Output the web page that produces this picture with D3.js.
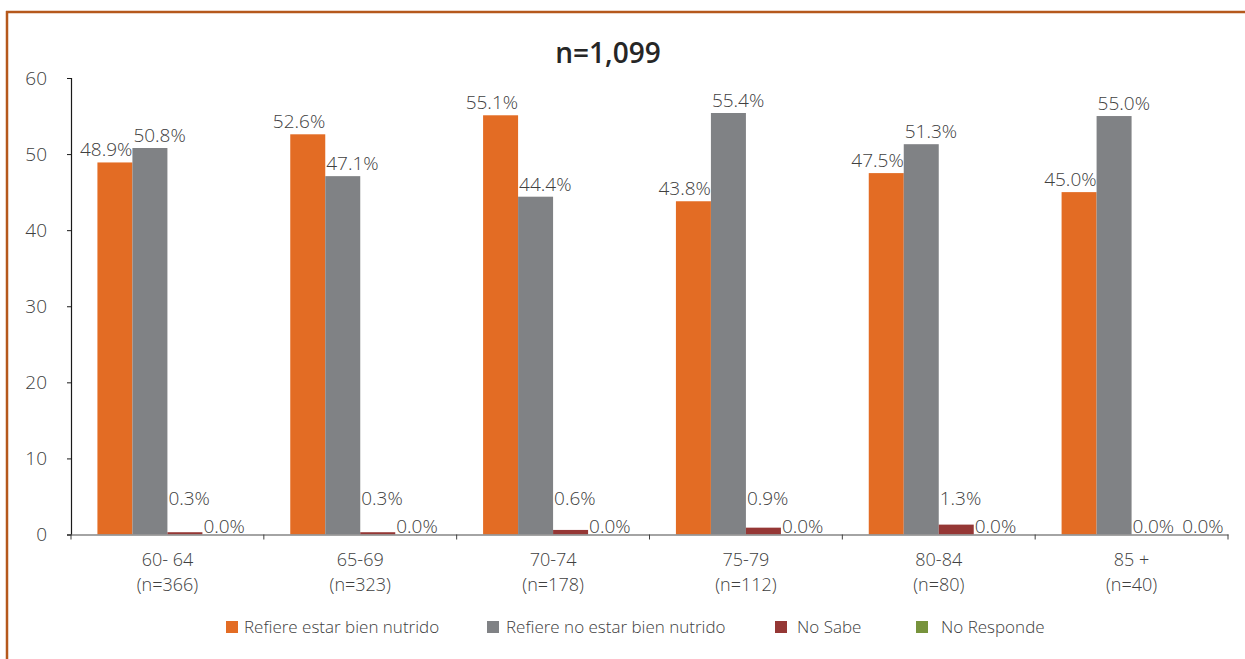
<!DOCTYPE html>
<html>
<head>
<meta charset="utf-8">
<script src="https://cdn.jsdelivr.net/npm/d3@7"></script>
<style>
  html, body { margin: 0; padding: 0; background: #ffffff; }
  svg { display: block; }
  text { font-family: "Open Sans", "DejaVu Sans", sans-serif; font-weight: 300; }
</style>
</head>
<body>
<svg id="chart" width="1245" height="659"></svg>
<script>
// ---- data ----
const title = "n=1,099";
const categories = ["60- 64", "65-69", "70-74", "75-79", "80-84", "85 +"];
const categorySizes = ["(n=366)", "(n=323)", "(n=178)", "(n=112)", "(n=80)", "(n=40)"];
const seriesNames = ["Refiere estar bien nutrido", "Refiere no estar bien nutrido", "No Sabe", "No Responde"];
const bienNutrido = [48.9, 52.6, 55.1, 43.8, 47.5, 45.0];
const noBienNutrido = [50.8, 47.1, 44.4, 55.4, 51.3, 55.0];
const noSabe = [0.3, 0.3, 0.6, 0.9, 1.3, 0.0];
const noResponde = [0.0, 0.0, 0.0, 0.0, 0.0, 0.0];
const yTicks = [0, 10, 20, 30, 40, 50, 60];
const seriesColors = ["#E36C24", "#808285", "#953735", "#77933C"];

const seriesValues = [bienNutrido, noBienNutrido, noSabe, noResponde];

// ---- layout ----
const svg = d3.select("#chart");
const W = 1245, H = 659;
const plot = { left: 71, right: 1228, top: 78, bottom: 534.5 };

// frame
svg.append("line").attr("x1", 6).attr("x2", W).attr("y1", 12).attr("y2", 12)
  .attr("stroke", "#B5581C").attr("stroke-width", 2.5);
svg.append("line").attr("x1", 7).attr("x2", 7).attr("y1", 11).attr("y2", H)
  .attr("stroke", "#B5581C").attr("stroke-width", 2.5);

// title
svg.append("text").attr("x", 608).attr("y", 63).attr("text-anchor", "middle")
  .attr("font-size", 28).style("font-weight", 560).attr("fill", "#262626")
  .text(title);

// scales
const x0 = d3.scaleBand().domain(categories).range([plot.left, plot.right]).padding(0);
const x1 = d3.scaleBand().domain(seriesNames).range([0, x0.bandwidth()])
  .paddingInner(0).paddingOuter(0.755);
const y = d3.scaleLinear().domain([0, 60]).range([plot.bottom, plot.top]);

// y axis
const yAxis = d3.axisLeft(y).tickValues(yTicks).tickSize(4).tickPadding(20)
  .tickFormat(d3.format("d"));
const gy = svg.append("g").attr("transform", `translate(${plot.left},0)`).call(yAxis);
gy.select(".domain").attr("stroke", "#1a1a1a").attr("stroke-width", 1.2);
gy.selectAll(".tick line").attr("stroke", "#1a1a1a");
gy.selectAll(".tick text").attr("font-size", 19).attr("fill", "#404040")
  .attr("font-family", "'Open Sans', sans-serif");

// bars
const groups = svg.append("g").selectAll("g").data(categories).join("g")
  .attr("transform", d => `translate(${x0(d)},0)`);

const barData = (c, ci) => seriesNames.map((s, si) => ({ series: s, si, ci, value: seriesValues[si][ci] }));

groups.selectAll("rect").data((c, ci) => barData(c, ci)).join("rect")
  .attr("x", d => x1(d.series))
  .attr("width", x1.bandwidth())
  .attr("y", d => y(d.value))
  .attr("height", d => y(0) - y(d.value))
  .attr("fill", d => seriesColors[d.si]);

// x axis
const xAxis = d3.axisBottom(x0).tickSize(0).tickFormat("");
const gx = svg.append("g").attr("transform", `translate(0,${plot.bottom})`).call(xAxis);
gx.select(".domain").attr("stroke", "#868686").attr("stroke-width", 1.5);
const boundaries = categories.map(c => x0(c)).concat([x0(categories[categories.length - 1]) + x0.bandwidth()]);
gx.selectAll("line.bound").data(boundaries).join("line").attr("class", "bound")
  .attr("x1", d => d).attr("x2", d => d).attr("y1", 0).attr("y2", 5)
  .attr("stroke", "#404040").attr("stroke-width", 1);

// category labels (two separate lines)
const catG = svg.append("g");
catG.selectAll("text.cat").data(categories).join("text").attr("class", "cat")
  .attr("x", d => x0(d) + x0.bandwidth() / 2).attr("y", 566)
  .attr("text-anchor", "middle").attr("font-size", 18).attr("fill", "#404040")
  .text(d => d);
catG.selectAll("text.size").data(categorySizes).join("text").attr("class", "size")
  .attr("x", (d, i) => x0(categories[i]) + x0.bandwidth() / 2).attr("y", 591)
  .attr("text-anchor", "middle").attr("font-size", 18).attr("fill", "#404040")
  .text(d => d);

// value labels
const fmt = v => d3.format(".1f")(v) + "%";
const labelLayer = svg.append("g");
categories.forEach((c, ci) => {
  const gxPos = x0(c);
  let lastEndSmall = -Infinity;
  seriesNames.forEach((s, si) => {
    const v = seriesValues[si][ci];
    const bx = gxPos + x1(s);
    const t = labelLayer.append("text").attr("font-size", 19).attr("fill", "#404040").text(fmt(v));
    if (si === 0) {
      t.attr("x", bx + x1.bandwidth()).attr("y", y(v) - 6).attr("text-anchor", "end");
    } else if (si === 1) {
      t.attr("x", bx + 1).attr("y", y(v) - 6).attr("text-anchor", "start");
    } else {
      const baseY = v > 0 ? y(0) - 30 : y(0) - 2;
      let sx = bx + 1;
      if (v === 0 && sx < lastEndSmall + 8) sx = lastEndSmall + 8;
      t.attr("x", sx).attr("y", baseY).attr("text-anchor", "start");
      if (v === 0) lastEndSmall = sx + t.node().getComputedTextLength();
    }
  });
});

// legend
const legendX = [226, 487, 775, 916];
const legendTextX = [244, 506, 797, 941];
const legend = svg.append("g").selectAll("g").data(seriesNames).join("g");
legend.append("rect").attr("x", (d, i) => legendX[i]).attr("y", 621).attr("width", 12).attr("height", 12)
  .attr("fill", (d, i) => seriesColors[i]);
legend.append("text").attr("x", (d, i) => legendTextX[i]).attr("y", 633)
  .attr("font-size", 17).attr("fill", "#404040").text(d => d);
</script>
</body>
</html>
